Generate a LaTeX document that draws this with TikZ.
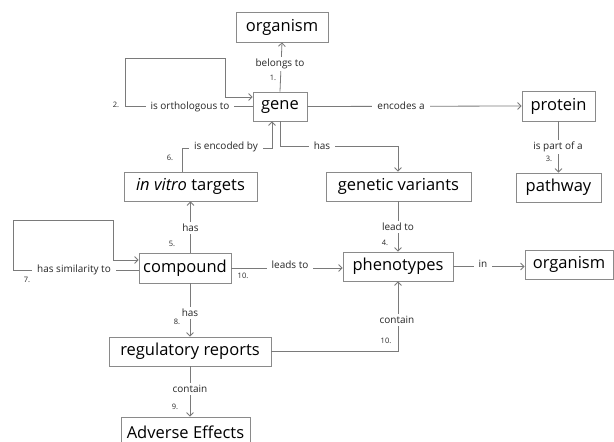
\documentclass[tikz,border=0pt]{standalone}
\usepackage{fontspec}
\setmainfont{Open Sans}
\usetikzlibrary{arrows.meta}
\definecolor{boxgray}{HTML}{8A8A8A}
\definecolor{linegray}{HTML}{7A7A7A}
\definecolor{labgray}{HTML}{262626}
\begin{document}
\begin{tikzpicture}[x=1pt,y=-1pt,
 box/.style={draw=boxgray, line width=0.8pt, inner sep=0pt, font=\fontsize{16.5}{18}\selectfont, text=black},
 lab/.style={fill=white, inner xsep=5pt, inner ysep=2pt, font=\fontsize{10}{11}\selectfont, text=labgray},
 num/.style={font=\fontsize{7.5}{8}\selectfont, text=labgray, inner sep=0pt},
 conn/.style={draw=linegray, line width=0.8pt},
 arr/.style={conn, -{Straight Barb[length=3.5pt,width=7pt]}}]
\useasboundingbox[fill=white] (0,0) rectangle (614,442);
% nodes
\node[box, minimum width=92pt, minimum height=30pt] (orgtop) at (282,27) {organism};
\node[box, minimum width=54pt, minimum height=29pt] (gene) at (280,106.5) {gene};
\node[box, minimum width=73pt, minimum height=30pt] (protein) at (558.5,106) {protein};
\node[box, minimum width=85pt, minimum height=29pt] (pathway) at (558.5,187.5) {pathway};
\node[box, minimum width=133pt, minimum height=29pt] (invitro) at (190.5,186.5) {\textit{in vitro} targets};
\node[box, minimum width=145pt, minimum height=29pt] (genvar) at (398.5,186.5) {genetic variants};
\node[box, minimum width=92pt, minimum height=30pt] (compound) at (185,268) {compound};
\node[box, minimum width=110pt, minimum height=29pt] (pheno) at (398,266.5) {phenotypes};
\node[box, minimum width=88pt, minimum height=29pt] (orgright) at (569,264.5) {organism};
\node[box, minimum width=162pt, minimum height=29pt] (regrep) at (190,351.5) {regulatory reports};
\node[box, minimum width=129pt, minimum height=30pt] (adverse) at (185.5,432) {Adverse Effects};
% 1
\draw[arr] (gene.north) -- (orgtop.south);
\node[lab] (l1) at (280,64) {belongs to};
\node[num] (n1) at (273,78) {1.};
% 2
\draw[arr] (gene.west) -- (125,106.5) -- (125,58) -- (225,58) -- (225,97) -- (gene.west |- 225,97);
\node[lab] (l2) at (190,107) {is orthologous to};
\node[num] (n2) at (116,105) {2.};
% encodes a
\draw[arr] (gene.east) -- (protein.west);
\node[lab] (l3) at (401,106) {encodes a};
% 3
\draw[arr] (protein.south) -- (pathway.north);
\node[lab] (l4) at (558,147) {is part of a};
\node[num] (n3) at (549,159) {3.};
% has (gene -> genetic variants)
\draw[arr] (gene.south) |- (398,146) -- (genvar.north -| 398,0);
\node[lab] (l5) at (322,146) {has};
% 6
\draw[arr] (invitro.north -| 182,0) |- (272,148) -- (gene.south -| 272,0);
\node[lab] (l6) at (226,147) {is encoded by};
\node[num] (n6) at (170,158) {6.};
% 5
\draw[arr] (compound.north -| invitro.south) -- (invitro.south);
\node[lab] (l7) at (190.5,228) {has};
\node[num] (n5) at (172,244) {5.};
% 7
\draw[arr] (compound.west |- 0,270) -- (13,270) -- (13,220) -- (113,220) -- (113,260) -- (compound.west |- 0,260);
\node[lab] (l8) at (74,270) {has similarity to};
\node[num] (n7) at (27,280) {7.};
% 10 leads to
\draw[arr] (compound.east) -- (compound.east -| pheno.west);
\node[lab] (l9) at (290,265) {leads to};
\node[num] (n10a) at (243,276) {10.};
% 4
\draw[arr] (genvar.south -| 398,0) -- (pheno.north);
\node[lab] (l10) at (398,227) {lead to};
\node[num] (n4) at (385,243) {4.};
% in
\draw[arr] (pheno.east) -- (pheno.east -| orgright.west);
\node[lab] (l11) at (483,264) {in};
% 10 contain
\draw[arr] (regrep.east) -| (pheno.south);
\node[lab] (l12) at (397,320) {contain};
\node[num] (n10b) at (386,341) {10.};
% 8
\draw[arr] (compound.south -| regrep.north) -- (regrep.north);
\node[lab] (l13) at (190,313) {has};
\node[num] (n8) at (177,322) {8.};
% 9
\draw[arr] (regrep.south) -- (regrep.south |- adverse.north);
\node[lab] (l14) at (190,389) {contain};
\node[num] (n9) at (175,407) {9.};
\end{tikzpicture}
\end{document}
